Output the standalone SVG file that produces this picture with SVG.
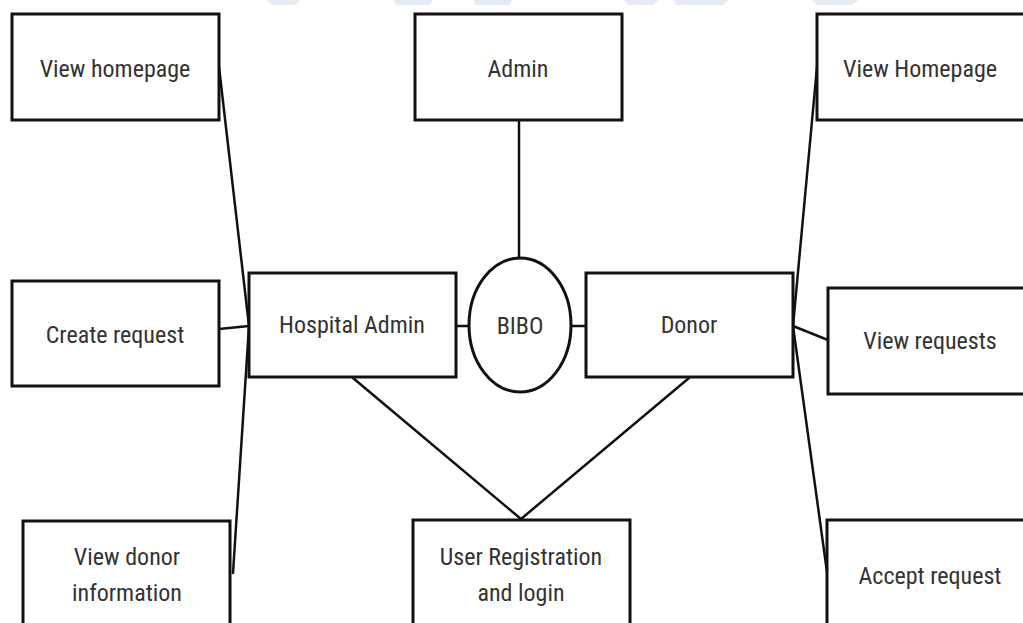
<svg xmlns="http://www.w3.org/2000/svg" width="1023" height="623" viewBox="0 0 1023 623">
  <style>
    .box { fill: #ffffff; stroke: #111111; stroke-width: 3; }
    .lbl { font-family: "Liberation Sans Narrow", "Roboto Condensed", "Liberation Sans", sans-serif; font-size: 24px; fill: #333333; text-anchor: middle; }
    .wire { stroke: #111111; stroke-width: 2.5; fill: none; stroke-linecap: round; }
    .wm { fill: #e6ebf2; }
  </style>
  <rect x="0" y="0" width="1023" height="623" fill="#ffffff"/>
  <g id="watermark">
    <polygon class="wm" points="267,0 300,0 296,5 272,5"/>
    <polygon class="wm" points="393,0 433,0 430,5 397,5"/>
    <polygon class="wm" points="473,0 512,0 510,5 476,5"/>
    <polygon class="wm" points="624,0 658,0 654,5 628,5"/>
    <polygon class="wm" points="674,0 728,0 724,5 676,5"/>
    <polygon class="wm" points="811,0 858,0 852,5 818,5"/>
  </g>
  <g id="connectors">
    <line class="wire" x1="219" y1="67" x2="249" y2="326"/>
    <line class="wire" x1="219" y1="329" x2="249" y2="326"/>
    <line class="wire" x1="233" y1="573" x2="249" y2="326"/>
    <line class="wire" x1="817" y1="67" x2="793" y2="326"/>
    <line class="wire" x1="828" y1="340" x2="793" y2="326"/>
    <line class="wire" x1="827" y1="572" x2="793" y2="326"/>
    <line class="wire" x1="519" y1="120" x2="519" y2="258"/>
    <line class="wire" x1="456" y1="326" x2="469" y2="326"/>
    <line class="wire" x1="571" y1="326" x2="586" y2="326"/>
    <line class="wire" x1="353" y1="378" x2="521" y2="519"/>
    <line class="wire" x1="689" y1="378" x2="521" y2="519"/>
  </g>
  <g id="view-homepage-left">
    <rect class="box" x="12" y="14" width="207" height="106"/>
    <text class="lbl" x="115" y="77">View homepage</text>
  </g>
  <g id="admin">
    <rect class="box" x="415" y="14" width="207" height="106"/>
    <text class="lbl" x="518" y="77">Admin</text>
  </g>
  <g id="view-homepage-right">
    <rect class="box" x="817" y="14" width="215" height="106"/>
    <text class="lbl" x="920" y="77">View Homepage</text>
  </g>
  <g id="create-request">
    <rect class="box" x="12" y="281" width="207" height="105"/>
    <text class="lbl" x="115" y="343">Create request</text>
  </g>
  <g id="hospital-admin">
    <rect class="box" x="249" y="273" width="207" height="104"/>
    <text class="lbl" x="352" y="333">Hospital Admin</text>
  </g>
  <g id="bibo">
    <ellipse class="box" cx="520" cy="325" rx="51" ry="67"/>
    <text class="lbl" x="520" y="334">BIBO</text>
  </g>
  <g id="donor">
    <rect class="box" x="586" y="273" width="207" height="104"/>
    <text class="lbl" x="689" y="333">Donor</text>
  </g>
  <g id="view-requests">
    <rect class="box" x="828" y="288" width="205" height="106"/>
    <text class="lbl" x="930" y="349">View requests</text>
  </g>
  <g id="view-donor-information">
    <rect class="box" x="23" y="521" width="207" height="115"/>
    <text class="lbl" x="127" y="565">View donor</text>
    <text class="lbl" x="127" y="601">information</text>
  </g>
  <g id="user-registration">
    <rect class="box" x="413" y="520" width="217" height="115"/>
    <text class="lbl" x="521" y="565">User Registration</text>
    <text class="lbl" x="521" y="601">and login</text>
  </g>
  <g id="accept-request">
    <rect class="box" x="827" y="520" width="205" height="115"/>
    <text class="lbl" x="930" y="584">Accept request</text>
  </g>
</svg>
